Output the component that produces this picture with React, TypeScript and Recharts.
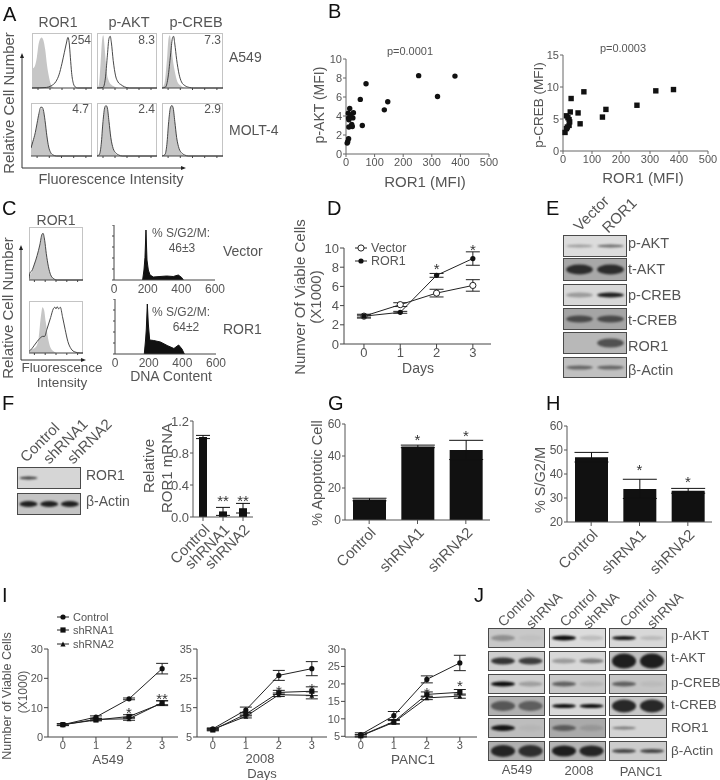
import React from "react";
import {
  Area,
  AreaChart,
  Bar,
  BarChart,
  ComposedChart,
  ErrorBar,
  Legend,
  Line,
  LineChart,
  ReferenceDot,
  Scatter,
  ScatterChart,
  XAxis,
  YAxis,
} from "recharts";

const FONT = '"Liberation Sans", Arial, sans-serif';
const INK = "#555";
const DARK = "#222";

// panel A / C flow histograms: [intensity %, count %]
const a549Ror1Gray = [[0, 35], [4, 38], [8, 55], [11, 80], [14, 90], [16, 92], [19, 87], [22, 70], [25, 42], [28, 22], [31, 8], [34, 2], [38, 0], [100, 0]];
const a549Ror1Line = [[0, 0], [24, 1], [32, 4], [40, 12], [45, 24], [50, 45], [54, 65], [57, 80], [60, 92], [62, 82], [64, 55], [66, 28], [69, 8], [72, 2], [76, 0], [100, 0]];
const a549AktGray = [[0, 0], [3, 5], [6, 45], [9, 92], [10.5, 96], [13, 70], [16, 30], [20, 12], [24, 6], [28, 3], [32, 1], [40, 0], [100, 0]];
const a549AktLine = [[0, 0], [10, 1], [14, 18], [17, 55], [20, 90], [22, 94], [24, 82], [27, 50], [31, 22], [35, 11], [40, 6], [46, 2], [54, 0], [100, 0]];
const a549CrebGray = [[0, 0], [4, 8], [8, 50], [11, 92], [13, 96], [15, 80], [18, 50], [21, 30], [25, 12], [30, 5], [36, 1], [42, 0], [100, 0]];
const a549CrebLine = [[0, 0], [6, 2], [10, 20], [14, 60], [17, 90], [19, 94], [21, 80], [24, 52], [28, 25], [32, 11], [38, 4], [45, 1], [52, 0], [100, 0]];
const moltRor1Gray = [[0, 20], [3, 28], [7, 42], [10, 60], [13, 78], [16, 88], [18, 90], [20, 86], [23, 65], [26, 38], [29, 16], [32, 6], [36, 1], [42, 0], [100, 0]];
const moltRor1Line = [[0, 15], [3, 27], [7, 44], [10, 62], [13, 80], [16, 92], [18, 92], [20, 88], [23, 67], [26, 38], [29, 17], [32, 7], [36, 2], [42, 0], [100, 0]];
const moltAktGray = [[0, 0], [4, 4], [7, 20], [10, 60], [13, 90], [16, 95], [18, 85], [21, 55], [24, 28], [28, 10], [32, 3], [38, 0], [100, 0]];
const moltAktLine = [[0, 0], [4, 3], [7, 22], [10, 65], [13, 92], [15, 95], [17, 92], [20, 65], [23, 35], [27, 14], [31, 6], [36, 2], [42, 0], [100, 0]];
const moltCrebGray = [[0, 0], [5, 4], [8, 20], [11, 60], [14, 90], [17, 96], [19, 85], [22, 55], [25, 28], [29, 10], [33, 3], [39, 0], [100, 0]];
const moltCrebLine = [[0, 0], [5, 3], [8, 22], [11, 65], [14, 92], [16, 95], [18, 92], [21, 65], [24, 35], [28, 14], [32, 6], [37, 2], [43, 0], [100, 0]];
const vectorGray = [[0, 5], [5, 15], [10, 30], [15, 45], [20, 65], [24, 85], [26, 88], [29, 75], [32, 50], [36, 25], [40, 10], [45, 3], [52, 0], [100, 0]];
const vectorLine = [[0, 2], [2, 14], [5, 17], [10, 30], [15, 46], [20, 66], [24, 86], [26, 88], [29, 75], [32, 50], [36, 25], [40, 10], [45, 3], [52, 0], [100, 0]];
const ror1Gray = [[0, 5], [8, 8], [13, 12], [18, 30], [22, 70], [25, 88], [28, 82], [31, 60], [35, 30], [40, 10], [46, 3], [52, 0], [100, 0]];
const ror1Line = [[0, 3], [5, 8], [10, 15], [15, 22], [20, 28], [25, 32], [29, 32], [33, 45], [40, 68], [45, 85], [48, 88], [50, 85], [52, 89], [55, 85], [58, 88], [62, 70], [67, 45], [72, 22], [78, 8], [85, 2], [95, 0], [100, 0]];

// panel B scatter
const aktRor1 = [254, 381, 320, 146, 134, 50, 70, 57, 13, 26, 24, 8, 9, 10, 20, 22, 9, 4, 6, 17, 10];
const aktValues = [8.25, 8.2, 6.05, 5.5, 4.65, 5.75, 7.4, 3.0, 4.8, 4.35, 3.8, 4.3, 3.8, 2.85, 3.1, 2.9, 1.6, 1.15, 1.3, 4.1, 3.6];
const crebRor1 = [381, 320, 255, 148, 136, 72, 28, 25, 52, 59, 12, 21, 21, 12, 7, 15, 23, 17];
const crebValues = [9.6, 9.4, 7.15, 6.5, 5.3, 9.25, 8.2, 6.1, 5.95, 4.25, 5.5, 4.9, 4.0, 3.5, 2.9, 3.75, 4.55, 5.2];
const mfiTicks = [0, 100, 200, 300, 400, 500];
const aktTicks = [0, 2, 4, 6, 8, 10];
const crebTicks = [0, 5, 10, 15];

// panel C DNA content
const dnaVector = [[170, 0], [178, 20], [184, 45], [190, 100], [196, 40], [204, 20], [214, 10], [234, 6], [273, 7], [313, 8], [352, 7], [382, 10], [402, 5], [412, 0]];
const dnaRor1 = [[174, 0], [182, 30], [186, 50], [192, 100], [198, 60], [206, 28], [230, 27], [270, 24], [310, 17], [350, 11], [378, 18], [398, 10], [412, 0]];
const dnaTicks = [0, 200, 400, 600];

// panel D and I growth curves
const days = [0, 1, 2, 3];
const vectorCells = [2.9, 4.1, 5.3, 6.1];
const vectorErr = [0.2, 0.2, 0.4, 0.6];
const ror1Cells = [2.9, 3.3, 7.15, 8.9];
const ror1Err = [0.1, 0.1, 0.2, 0.7];
const dTicks = [0, 2, 4, 6, 8, 10];

const a549Control = [4.2, 6.8, 13, 23.3];
const a549ControlErr = [0.3, 0.4, 0.3, 1.8];
const a549Sh1 = [4.2, 5.8, 7, 11.5];
const a549Sh1Err = [0.3, 0.3, 0.6, 0.8];
const a549Sh2 = [4.2, 6, 6.2, 11.7];
const a549Sh2Err = [0.3, 0.3, 0.5, 0.7];
const line2008Control = [7.8, 14.2, 26, 28.3];
const line2008ControlErr = [0.3, 1, 1.7, 2.4];
const line2008Sh1 = [7.4, 12.8, 20.2, 20.6];
const line2008Sh1Err = [0.3, 0.6, 0.7, 1.5];
const line2008Sh2 = [7.6, 12, 19.4, 19.2];
const line2008Sh2Err = [0.3, 0.5, 0.6, 1.2];
const panc1Control = [5.5, 10.9, 21.3, 26];
const panc1ControlErr = [0.5, 1.2, 1, 2.2];
const panc1Sh1 = [5.2, 9.2, 17, 17.6];
const panc1Sh1Err = [0.3, 0.6, 0.7, 0.8];
const panc1Sh2 = [5.1, 9, 16, 16.5];
const panc1Sh2Err = [0.3, 0.5, 0.5, 0.6];

// panel F, G, H bars
const knockdown = ["Control", "shRNA1", "shRNA2"];
const mrna = [1.0, 0.07, 0.11];
const mrnaErr = [0.02, 0.05, 0.06];
const mrnaTicks = [0, 0.4, 0.8, 1.2];
const apoptotic = [12.8, 46, 43.8];
const apoptoticErr = [0.8, 0.8, 6];
const apoptoticTicks = [0, 20, 40, 60];
const sPhase = [47, 33.8, 33];
const sPhaseErr = [2, 4, 1];
const sPhaseTicks = [20, 30, 40, 50, 60];

// western blots, band strength per lane
const blotE = [[0.3, 0.55], [0.8, 0.8], [0.3, 0.9], [0.6, 0.6], [0, 0.6], [0.5, 0.5]];
const blotF = [[0.75, 0, 0], [0.9, 0.9, 0.9]];
const blotJA549 = [[0.3, 0.04], [0.8, 0.75], [1, 0.25], [0.55, 0.5], [0.95, 0.04], [0.85, 0.8]];
const blotJ2008 = [[1, 0.15], [0.3, 0.45], [0.55, 0.1], [1, 1], [0.5, 0.12], [0.9, 0.85]];
const blotJPanc1 = [[0.95, 0.15], [0.9, 0.9], [0.55, 0.06], [0.85, 0.85], [0.45, 0], [0.7, 0.7]];

type Pt = number[];

function mergeHist(gray: Pt[], line: Pt[]) {
  const xs = Array.from(new Set([...gray, ...line].map((p) => p[0]))).sort((a, b) => a - b);
  return xs.map((x) => ({
    x,
    gray: gray.find((p) => p[0] === x)?.[1] ?? null,
    line: line.find((p) => p[0] === x)?.[1] ?? null,
  }));
}

function FlowHist({ left, top, w, h, gray, line }: any) {
  return (
    <div style={{ position: "absolute", left, top, width: w, height: h + 3 }}>
      <div
        style={{
          position: "absolute",
          inset: "0 0 3px 0",
          border: "1px solid #c4c4c4",
          borderBottom: "none",
        }}
      />
      <div style={{ position: "absolute", left: 0, top: 0 }}>
        <ComposedChart width={w} height={h + 3} data={mergeHist(gray, line)} margin={{ top: 0, right: 0, bottom: 0, left: 0 }}>
          <XAxis
            dataKey="x"
            type="number"
            domain={[0, 100]}
            ticks={[10, 30, 50, 70, 90]}
            height={3}
            tickSize={2}
            tickFormatter={() => ""}
            stroke="#444"
          />
          <YAxis hide domain={[0, 100]} />
          <Area type="monotone" dataKey="gray" connectNulls fill="#c6c6c6" fillOpacity={1} stroke="none" isAnimationActive={false} />
          <Line type="monotone" dataKey="line" connectNulls dot={false} stroke="#333" strokeWidth={0.9} isAnimationActive={false} />
        </ComposedChart>
      </div>
    </div>
  );
}

function DnaHist({ left, top, w, h, data }: any) {
  const rows = data.map((p: Pt) => ({ x: p[0], y: p[1] }));
  return (
    <div style={{ position: "absolute", left: left - 8, top }}>
      <AreaChart width={w + 22} height={h + 18} data={rows} margin={{ top: 0, right: 14, bottom: 0, left: 0 }}>
        <XAxis
          dataKey="x"
          type="number"
          domain={[0, 600]}
          ticks={dnaTicks}
          interval={0}
          height={18}
          tickSize={0}
          tickMargin={4}
          tick={{ fontSize: 12, fill: INK }}
          stroke="#444"
        />
        <YAxis width={8} domain={[0, 110]} ticks={[0, 22, 44, 66, 88, 110]} tickSize={2} tickFormatter={() => ""} stroke="#444" />
        <Area type="linear" dataKey="y" fill="#111" fillOpacity={1} stroke="#111" isAnimationActive={false} />
      </AreaChart>
    </div>
  );
}

function ScatterPanel({ left, top, w, h, xs, ys, yDomain, yTicks, kind }: any) {
  const rows = xs.map((x: number, i: number) => ({ x, y: ys[i] }));
  return (
    <div style={{ position: "absolute", left: left - 30, top: top - 8 }}>
      <ScatterChart width={w + 45} height={h + 26} margin={{ top: 8, right: 15, bottom: 0, left: 0 }}>
        <XAxis
          dataKey="x"
          type="number"
          domain={[0, 500]}
          ticks={mfiTicks}
          interval={0}
          height={18}
          tickSize={3}
          tickMargin={1}
          tick={{ fontSize: 11, fill: INK }}
          stroke="#666"
        />
        <YAxis
          dataKey="y"
          type="number"
          domain={yDomain}
          ticks={yTicks}
          interval={0}
          width={30}
          tickSize={3}
          tickMargin={1}
          tick={{ fontSize: 11, fill: INK }}
          stroke="#666"
        />
        <Scatter
          data={rows}
          fill="#111"
          isAnimationActive={false}
          shape={(p: any) => <Marker kind={kind} cx={p.cx} cy={p.cy} r={2.7} />}
        />
      </ScatterChart>
    </div>
  );
}

function Marker({ kind, cx, cy, r = 3 }: any) {
  if (kind === "open") return <circle cx={cx} cy={cy} r={r + 0.5} fill="#fff" stroke={DARK} strokeWidth={1} />;
  if (kind === "square") return <rect x={cx - r} y={cy - r} width={r * 2} height={r * 2} fill="#111" />;
  if (kind === "triangle") return <polygon points={`${cx},${cy - r} ${cx + r},${cy + r} ${cx - r},${cy + r}`} fill="#111" />;
  return <circle cx={cx} cy={cy} r={r} fill="#111" />;
}

const markerOf: Record<string, string> = {
  Vector: "open",
  ROR1: "circle",
  Control: "circle",
  shRNA1: "square",
  shRNA2: "triangle",
};

function GrowthLegend({ payload, fontSize, rowH }: any) {
  return (
    <div>
      {(payload || []).map((e: any) => (
        <div key={e.value} style={{ display: "flex", alignItems: "center", height: rowH, fontSize, color: INK, whiteSpace: "nowrap" }}>
          <svg width={16} height={10} style={{ marginRight: 1 }}>
            <line x1={1} x2={13} y1={5} y2={5} stroke={DARK} />
            <Marker kind={markerOf[e.value]} cx={7} cy={5} r={2.6} />
          </svg>
          {e.value}
        </div>
      ))}
    </div>
  );
}

function GrowthPanel({ left, top, w, h, series, yDomain, yTicks, xDomain, stars, tickFont, legend, topPad = 10 }: any) {
  const rows = days.map((day, i) => {
    const row: any = { day };
    series.forEach((s: any) => {
      row[s.name] = s.values[i];
      row[s.name + "Err"] = s.errs[i];
    });
    return row;
  });
  return (
    <div style={{ position: "absolute", left: left - 30, top: top - topPad }}>
      <LineChart width={w + 40} height={topPad + h + 18} data={rows} margin={{ top: topPad, right: 10, bottom: 0, left: 0 }}>
        <XAxis
          dataKey="day"
          type="number"
          domain={xDomain}
          ticks={days}
          interval={0}
          height={18}
          tickSize={4}
          tickMargin={0}
          tick={{ fontSize: tickFont, fill: INK }}
          stroke="#444"
          allowDataOverflow
        />
        <YAxis
          type="number"
          domain={yDomain}
          ticks={yTicks}
          interval={0}
          width={30}
          tickSize={4}
          tickMargin={1}
          tick={{ fontSize: tickFont, fill: INK }}
          stroke="#444"
        />
        {legend && (
          <Legend
            layout="vertical"
            align="center"
            verticalAlign="middle"
            itemSorter={null}
            wrapperStyle={{ left: legend.left, top: legend.top, width: 100 }}
            content={(p: any) => <GrowthLegend payload={p.payload} fontSize={legend.fontSize} rowH={legend.rowH} />}
          />
        )}
        {series.map((s: any) => (
          <Line
            key={s.name}
            dataKey={s.name}
            name={s.name}
            type="linear"
            stroke={DARK}
            strokeWidth={1}
            isAnimationActive={false}
            dot={(p: any) => <Marker key={p.index} kind={markerOf[s.name]} cx={p.cx} cy={p.cy} r={s.r || 3} />}
          >
            <ErrorBar dataKey={s.name + "Err"} width={s.cap || 6} stroke={DARK} strokeWidth={1} />
          </Line>
        ))}
        {stars.map((st: any, i: number) => (
          <ReferenceDot
            key={i}
            x={st.x}
            y={st.y}
            r={0}
            ifOverflow="visible"
            stroke="none"
            label={{ value: st.text, position: "center", fontSize: 15, fill: "#333" }}
          />
        ))}
      </LineChart>
    </div>
  );
}

function BarPanel({ left, top, w, h, values, errs, yDomain, yTicks, barSize, cap, tickFont, cats, stars, fmt }: any) {
  const rows = knockdown.map((name, i) => ({ name, v: values[i], err: errs[i] }));
  return (
    <div style={{ position: "absolute", left: left - 30, top: top - 12 }}>
      <BarChart width={w + 40} height={h + 12 + 55} data={rows} margin={{ top: 12, right: 10, bottom: 0, left: 0 }}>
        <XAxis
          dataKey="name"
          interval={0}
          height={55}
          tickSize={4}
          tick={{ fontSize: cats, fill: INK, angle: -45, textAnchor: "end" }}
          stroke="#555"
        />
        <YAxis
          type="number"
          domain={yDomain}
          ticks={yTicks}
          interval={0}
          width={30}
          tickSize={3}
          tickMargin={1}
          tickFormatter={fmt}
          tick={{ fontSize: tickFont, fill: INK }}
          stroke="#555"
        />
        <Bar dataKey="v" barSize={barSize} fill="#111" isAnimationActive={false}>
          <ErrorBar dataKey="err" width={cap} stroke="#111" strokeWidth={1} />
        </Bar>
        {stars.map((st: any, i: number) => (
          <ReferenceDot
            key={i}
            x={st.x}
            y={st.y}
            r={0}
            ifOverflow="visible"
            stroke="none"
            label={{ value: st.text, position: "center", fontSize: 15, fill: "#333" }}
          />
        ))}
      </BarChart>
    </div>
  );
}

function BlotRow({ left, top, w, h, bg, bandH, lanes }: any) {
  const rows = lanes.map((v: number, i: number) => ({ lane: i, v }));
  const inner = h - 2;
  return (
    <div
      style={{
        position: "absolute",
        left,
        top,
        width: w,
        height: h,
        boxSizing: "border-box",
        border: "1px solid #4a4a4a",
        background: bg,
        overflow: "hidden",
      }}
    >
      <BarChart width={w - 2} height={inner} data={rows} margin={{ top: 0, right: 0, bottom: 0, left: 0 }} barCategoryGap={0}>
        <XAxis dataKey="lane" hide />
        <YAxis hide domain={[0, 1]} />
        <Bar
          dataKey="v"
          isAnimationActive={false}
          shape={(p: any) => (
            <ellipse
              cx={p.x + p.width / 2}
              cy={inner / 2}
              rx={p.width * 0.43}
              ry={bandH / 2}
              fill="#0c0c0c"
              fillOpacity={p.payload.v}
              style={{ filter: "blur(1.3px)" }}
            />
          )}
        />
      </BarChart>
    </div>
  );
}

function T({ x, y, s = 14, a = "middle", r, c = INK, children }: any) {
  return (
    <text
      x={x}
      y={y}
      fontSize={s}
      textAnchor={a}
      dominantBaseline="central"
      fill={c}
      transform={r ? `rotate(${r} ${x} ${y})` : undefined}
    >
      {children}
    </text>
  );
}

function Arrows({ x, y, top, right }: any) {
  return (
    <g stroke="#333" fill="#222">
      <line x1={x} y1={y} x2={x} y2={top} />
      <line x1={x} y1={y} x2={right} y2={y} />
      <polygon points={`${x},${top - 3} ${x + 2},${top + 2} ${x - 2},${top + 2}`} stroke="none" />
      <polygon points={`${right + 3},${y} ${right - 2},${y - 2} ${right - 2},${y + 2}`} stroke="none" />
    </g>
  );
}

const eRows = [
  { top: 235, h: 22, bg: "#dcdcdc", band: 3 },
  { top: 258, h: 23, bg: "#a8a8a8", band: 10 },
  { top: 284, h: 22, bg: "#d8d8d8", band: 5 },
  { top: 308, h: 22, bg: "#a5a5a5", band: 7 },
  { top: 332, h: 22, bg: "#b8b8b8", band: 9 },
  { top: 357, h: 21, bg: "#c0c0c0", band: 4 },
];
const jTops = [628, 651, 674, 696, 718, 741];
const jA549Style = [["#c8c8c8", 6], ["#cfcfcf", 7], ["#d0d0d0", 5], ["#b0b0b0", 10], ["#bdbdbd", 6], ["#b0b0b0", 12]];
const j2008Style = [["#dcdcdc", 5], ["#d8d8d8", 5], ["#c8c8c8", 5], ["#d8d8d8", 4], ["#aaaaaa", 6], ["#b5b5b5", 11]];
const jPanc1Style = [["#d8d8d8", 4], ["#c0c0c0", 15], ["#c5c5c5", 5], ["#c8c8c8", 13], ["#d4d4d4", 3], ["#cccccc", 4]];

function series3(c: number[], ce: number[], a: number[], ae: number[], b: number[], be: number[]) {
  return [
    { name: "Control", values: c, errs: ce, r: 2.6, cap: 6 },
    { name: "shRNA1", values: a, errs: ae, r: 2.6, cap: 6 },
    { name: "shRNA2", values: b, errs: be, r: 2.4, cap: 6 },
  ];
}

export default function App() {
  return (
    <div
      style={{
        position: "absolute",
        left: 0,
        top: 0,
        width: 720,
        height: 780,
        background: "#fff",
        overflow: "hidden",
        fontFamily: FONT,
        filter: "blur(0.4px)",
      }}
    >
      {/* A */}
      <FlowHist left={32} top={33} w={60} h={55} gray={a549Ror1Gray} line={a549Ror1Line} />
      <FlowHist left={97} top={33} w={60} h={55} gray={a549AktGray} line={a549AktLine} />
      <FlowHist left={162} top={33} w={61} h={55} gray={a549CrebGray} line={a549CrebLine} />
      <FlowHist left={31} top={103} w={61} h={53} gray={moltRor1Gray} line={moltRor1Line} />
      <FlowHist left={97} top={103} w={60} h={53} gray={moltAktGray} line={moltAktLine} />
      <FlowHist left={162} top={103} w={61} h={53} gray={moltCrebGray} line={moltCrebLine} />

      {/* B */}
      <ScatterPanel left={346} top={59} w={143} h={95} xs={aktRor1} ys={aktValues} yDomain={[0, 10]} yTicks={aktTicks} kind="circle" />
      <ScatterPanel left={563} top={55} w={145} h={96} xs={crebRor1} ys={crebValues} yDomain={[0, 15]} yTicks={crebTicks} kind="square" />

      {/* C */}
      <FlowHist left={29} top={227} w={54} h={53} gray={vectorGray} line={vectorLine} />
      <FlowHist left={29} top={301} w={54} h={52} gray={ror1Gray} line={ror1Line} />
      <DnaHist left={114} top={225} w={101} h={55} data={dnaVector} />
      <DnaHist left={115} top={299} w={101} h={55} data={dnaRor1} />

      {/* D */}
      <GrowthPanel
        left={344}
        top={248}
        w={147}
        h={96}
        series={[
          { name: "Vector", values: vectorCells, errs: vectorErr, r: 2.6, cap: 7 },
          { name: "ROR1", values: ror1Cells, errs: ror1Err, r: 2.6, cap: 7 },
        ]}
        yDomain={[0, 10]}
        yTicks={dTicks}
        xDomain={[-0.55, 3.5]}
        tickFont={13}
        stars={[{ x: 2, y: 7.8, text: "*" }, { x: 3, y: 9.8, text: "*" }]}
        legend={{ left: 40, top: 3, fontSize: 12.5, rowH: 13 }}
      />

      {/* E */}
      {eRows.map((r, i) => (
        <BlotRow key={i} left={563} top={r.top} w={64} h={r.h} bg={r.bg} bandH={r.band} lanes={blotE[i]} />
      ))}

      {/* F */}
      <BlotRow left={17} top={467} w={64} h={22} bg="#d6d6d6" bandH={3} lanes={blotF[0]} />
      <BlotRow left={17} top={493} w={64} h={22} bg="#c4c4c4" bandH={6} lanes={blotF[1]} />
      <BarPanel
        left={193}
        top={421}
        w={60}
        h={96}
        values={mrna}
        errs={mrnaErr}
        yDomain={[0, 1.2]}
        yTicks={mrnaTicks}
        barSize={8}
        cap={7}
        tickFont={13}
        cats={15}
        fmt={(v: number) => v.toFixed(1)}
        stars={[{ x: "shRNA1", y: 0.21, text: "**" }, { x: "shRNA2", y: 0.21, text: "**" }]}
      />

      {/* G */}
      <BarPanel
        left={345}
        top={424}
        w={145}
        h={96}
        values={apoptotic}
        errs={apoptoticErr}
        yDomain={[0, 60]}
        yTicks={apoptoticTicks}
        barSize={33}
        cap={17}
        tickFont={12}
        cats={15}
        stars={[{ x: "shRNA1", y: 50, text: "*" }, { x: "shRNA2", y: 53, text: "*" }]}
      />

      {/* H */}
      <BarPanel
        left={567}
        top={426}
        w={145}
        h={96}
        values={sPhase}
        errs={sPhaseErr}
        yDomain={[20, 60]}
        yTicks={sPhaseTicks}
        barSize={33}
        cap={17}
        tickFont={12}
        cats={15}
        stars={[{ x: "shRNA1", y: 42, text: "*" }, { x: "shRNA2", y: 37, text: "*" }]}
      />

      {/* I */}
      <GrowthPanel
        left={48}
        top={649}
        w={130}
        h={88}
        topPad={44}
        series={series3(a549Control, a549ControlErr, a549Sh1, a549Sh1Err, a549Sh2, a549Sh2Err)}
        yDomain={[0, 30]}
        yTicks={[0, 10, 20, 30]}
        xDomain={[-0.45, 3.48]}
        tickFont={11}
        stars={[{ x: 2, y: 8.2, text: "*" }, { x: 3, y: 13, text: "**" }]}
        legend={{ left: 38, top: 5, fontSize: 11, rowH: 13.5 }}
      />
      <GrowthPanel
        left={197}
        top={649}
        w={130}
        h={88}
        series={series3(line2008Control, line2008ControlErr, line2008Sh1, line2008Sh1Err, line2008Sh2, line2008Sh2Err)}
        yDomain={[5, 35]}
        yTicks={[5, 15, 25, 35]}
        xDomain={[-0.48, 3.46]}
        tickFont={11}
        stars={[{ x: 2, y: 20.7, text: "*" }, { x: 3, y: 21.4, text: "*" }]}
      />
      <GrowthPanel
        left={345}
        top={649}
        w={132}
        h={88}
        series={series3(panc1Control, panc1ControlErr, panc1Sh1, panc1Sh1Err, panc1Sh2, panc1Sh2Err)}
        yDomain={[5, 30]}
        yTicks={[5, 10, 15, 20, 25, 30]}
        xDomain={[-0.48, 3.52]}
        tickFont={11}
        stars={[{ x: 2, y: 17.5, text: "*" }, { x: 3, y: 19.4, text: "*" }]}
      />

      {/* J */}
      {jTops.map((t, i) => (
        <React.Fragment key={i}>
          <BlotRow left={488} top={t} w={57} h={20} bg={jA549Style[i][0]} bandH={jA549Style[i][1]} lanes={blotJA549[i]} />
          <BlotRow left={549} top={t} w={57} h={20} bg={j2008Style[i][0]} bandH={j2008Style[i][1]} lanes={blotJ2008[i]} />
          <BlotRow left={609} top={t} w={58} h={20} bg={jPanc1Style[i][0]} bandH={jPanc1Style[i][1]} lanes={blotJPanc1[i]} />
        </React.Fragment>
      ))}

      <svg width={720} height={780} style={{ position: "absolute", left: 0, top: 0, pointerEvents: "none" }}>
        {/* panel letters */}
        <T x={3} y={14} s={20} a="start" c="#111">A</T>
        <T x={328} y={11} s={20} a="start" c="#111">B</T>
        <T x={2} y={208} s={20} a="start" c="#111">C</T>
        <T x={327} y={208} s={20} a="start" c="#111">D</T>
        <T x={546} y={208} s={20} a="start" c="#111">E</T>
        <T x={2} y={403} s={20} a="start" c="#111">F</T>
        <T x={328} y={403} s={20} a="start" c="#111">G</T>
        <T x={546} y={403} s={20} a="start" c="#111">H</T>
        <T x={2} y={595} s={20} a="start" c="#111">I</T>
        <T x={474} y={595} s={20} a="start" c="#111">J</T>

        {/* A */}
        <T x={58} y={22} s={14}>ROR1</T>
        <T x={129} y={22} s={14.5}>p-AKT</T>
        <T x={196} y={22} s={14.5}>p-CREB</T>
        <T x={91} y={40} s={12} a="end">254</T>
        <T x={155} y={40} s={12} a="end">8.3</T>
        <T x={221} y={40} s={12} a="end">7.3</T>
        <T x={89} y={109} s={12} a="end">4.7</T>
        <T x={155} y={109} s={12} a="end">2.4</T>
        <T x={221} y={109} s={12} a="end">2.9</T>
        <T x={229} y={57} s={14} a="start">A549</T>
        <T x={229} y={130} s={14} a="start">MOLT-4</T>
        <T x={8} y={103} s={15} r={-90}>Relative Cell Number</T>
        <T x={111} y={179} s={14.5}>Fluorescence Intensity</T>
        <Arrows x={22} y={168} top={56} right={183} />

        {/* B */}
        <T x={410} y={51} s={11}>p=0.0001</T>
        <T x={623} y={48} s={11}>p=0.0003</T>
        <T x={319} y={105} s={14} r={-90}>p-AKT (MFI)</T>
        <T x={538} y={105} s={13.5} r={-90}>p-CREB (MFI)</T>
        <T x={425} y={181} s={15}>ROR1 (MFI)</T>
        <T x={643} y={177} s={15}>ROR1 (MFI)</T>

        {/* C */}
        <T x={56} y={220} s={14}>ROR1</T>
        <T x={7} y={308} s={15} r={-90}>Relative Cell Number</T>
        <T x={62} y={367} s={13.5}>Fluorescence</T>
        <T x={62} y={382.5} s={13.5}>Intensity</T>
        <Arrows x={21} y={360} top={248} right={83} />
        <T x={181} y={233} s={12}>% S/G2/M:</T>
        <T x={182} y={248} s={12}>46±3</T>
        <T x={181} y={312} s={12}>% S/G2/M:</T>
        <T x={186} y={327} s={12}>64±2</T>
        <T x={223} y={251} s={14} a="start">Vector</T>
        <T x={223} y={329} s={14} a="start">ROR1</T>
        <T x={171} y={376} s={14}>DNA Content</T>

        {/* D */}
        <T x={299} y={297} s={15} r={-90}>Numver Of Viable Cells</T>
        <T x={315} y={297} s={15} r={-90}>(X1000)</T>
        <T x={418} y={368} s={14}>Days</T>

        {/* E */}
        <T x={591} y={213} s={15} r={-45}>Vector</T>
        <T x={619} y={215} s={15} r={-45}>ROR1</T>
        <T x={628} y={243} s={14.5} a="start">p-AKT</T>
        <T x={628} y={269} s={14.5} a="start">t-AKT</T>
        <T x={628} y={295} s={14.5} a="start">p-CREB</T>
        <T x={628} y={320} s={14.5} a="start">t-CREB</T>
        <T x={628} y={346} s={14.5} a="start">ROR1</T>
        <T x={628} y={370} s={14.5} a="start">β-Actin</T>

        {/* F */}
        <T x={39.5} y={442} s={15} r={-45}>Control</T>
        <T x={65} y={441} s={15} r={-45}>shRNA1</T>
        <T x={89} y={441} s={15} r={-45}>shRNA2</T>
        <T x={86} y={475} s={14} a="start">ROR1</T>
        <T x={86} y={501} s={14} a="start">β-Actin</T>
        <T x={148} y={466} s={15} r={-90}>Relative</T>
        <T x={166} y={468} s={15} r={-90}>ROR1 mRNA</T>

        {/* G, H */}
        <T x={317} y={473} s={14.5} r={-90}>% Apoptotic Cell</T>
        <T x={540} y={480} s={14.5} r={-90}>% S/G2/M</T>

        {/* I */}
        <T x={7} y={696} s={12.5} r={-90}>Number of Viable Cells</T>
        <T x={23} y={692} s={12} r={-90}>(X1000)</T>
        <T x={108} y={759} s={13.5}>A549</T>
        <T x={260} y={758.5} s={13}>2008</T>
        <T x={262} y={773.5} s={13}>Days</T>
        <T x={413} y={759} s={13.5}>PANC1</T>

        {/* J */}
        <T x={516} y={608} s={14} r={-45}>Control</T>
        <T x={544} y={610} s={14} r={-45}>shRNA</T>
        <T x={578} y={608} s={14} r={-45}>Control</T>
        <T x={601} y={610} s={14} r={-45}>shRNA</T>
        <T x={638} y={608} s={14} r={-45}>Control</T>
        <T x={665} y={610} s={14} r={-45}>shRNA</T>
        <T x={671} y={635} s={13.5} a="start">p-AKT</T>
        <T x={671} y={657} s={13.5} a="start">t-AKT</T>
        <T x={671} y={682} s={13.5} a="start">p-CREB</T>
        <T x={671} y={704} s={13.5} a="start">t-CREB</T>
        <T x={671} y={727} s={13.5} a="start">ROR1</T>
        <T x={671} y={750} s={13.5} a="start">β-Actin</T>
        <T x={517} y={769} s={13}>A549</T>
        <T x={579} y={770} s={13}>2008</T>
        <T x={641} y={771} s={13}>PANC1</T>
      </svg>
    </div>
  );
}
